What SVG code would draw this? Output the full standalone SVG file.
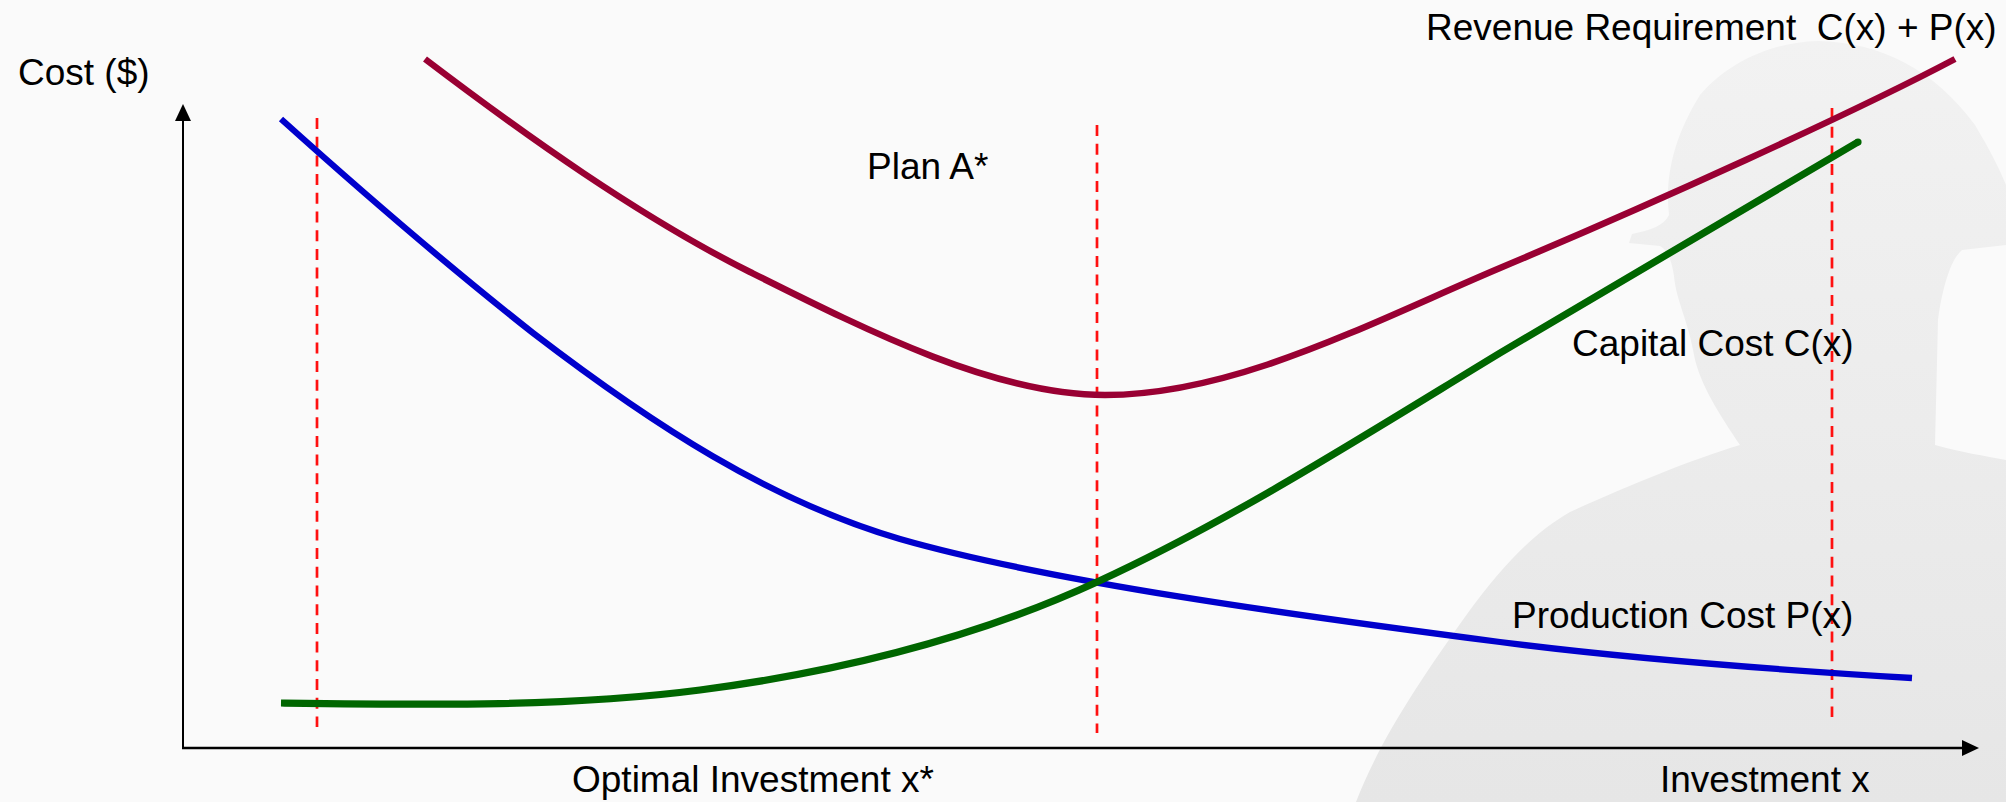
<svg xmlns="http://www.w3.org/2000/svg" width="2006" height="802" viewBox="0 0 2006 802">
  <defs>
    <linearGradient id="sil" x1="0" y1="0" x2="0" y2="1">
      <stop offset="0" stop-color="#f2f2f2"/>
      <stop offset="0.5" stop-color="#ececec"/>
      <stop offset="1" stop-color="#e6e6e6"/>
    </linearGradient>
    <style>
      .lbl { font-family: "Liberation Sans", Arial, sans-serif; font-size: 37px; fill: #000; white-space: pre; }
      .curve { fill: none; stroke-linejoin: round; stroke-linecap: butt; }
      .guide { stroke: #ff1010; stroke-width: 2.7; stroke-dasharray: 11 7.7; fill: none; }
      .axis { stroke: #000; fill: none; }
    </style>
  </defs>

  <rect width="2006" height="802" fill="#fafafa"/>

  <g id="background-silhouette">
    <path fill="url(#sil)" d="M1356,802 C1380,740 1420,680 1470,610 C1500,570 1530,535 1570,512 C1630,485 1690,460 1740,445 C1720,415 1700,385 1694,355 C1688,320 1676,300 1674,276 C1672,262 1668,250 1660,246 L1629,243 L1632,234 C1650,230 1664,226 1669,215 C1665,180 1672,140 1700,95 C1730,60 1775,42 1818,41 C1880,42 1935,70 1975,125 C1990,150 2000,170 2006,185 L2006,245 L1962,250 C1950,260 1942,290 1938,320 L1935,445 C1960,452 1985,456 2006,460 L2006,802 Z"/>
  </g>

  <g id="connectors">
    <g id="guides">
      <line class="guide" x1="317" y1="118" x2="317" y2="727"/>
      <line class="guide" x1="1097" y1="125" x2="1097" y2="733"/>
      <line class="guide" x1="1832" y1="108" x2="1832" y2="717"/>
    </g>
    <g id="axes">
      <line class="axis" stroke-width="2" x1="183" y1="749" x2="183" y2="118"/>
      <polygon points="183,104 175,121 191,121" fill="#000"/>
      <line class="axis" stroke-width="2.6" x1="182" y1="748" x2="1964" y2="748"/>
      <polygon points="1979,748 1962,740 1962,756" fill="#000"/>
    </g>
  </g>

  <g id="production-cost">
    <path class="curve" stroke="#0000cc" stroke-width="6.3" d="M281,119 C361,191 453,270 533,333 C653,425 770,501 900,539 C1050,582 1300,616 1500,642 C1640,660 1812,672 1912,678"/>
    <text class="lbl" x="1512" y="628">Production Cost P(x)</text>
  </g>

  <g id="capital-cost">
    <path class="curve" stroke="#006600" stroke-width="7.2" d="M281,703 C431,705 570,707 700,690 C830,673 967,642 1097,582 C1232,520 1365,435 1500,353 C1620,281 1740,211 1858,142"/>
    <circle cx="1858" cy="142" r="3.6" fill="#006600"/>
    <text class="lbl" x="1572" y="356">Capital Cost C(x)</text>
  </g>

  <g id="revenue-requirement">
    <path class="curve" stroke="#990033" stroke-width="6.5" d="M425,59 C525,135 640,217 750,272 C870,332 995,395 1105,395 C1235,395 1370,323 1500,268 C1650,205 1855,112 1955,59"/>
    <text class="lbl" x="1426" y="40">Revenue Requirement  C(x) + P(x)</text>
  </g>

  <g id="plan-a">
    <text class="lbl" x="867" y="179">Plan A*</text>
  </g>

  <g id="axis-labels">
    <text class="lbl" x="18" y="85">Cost ($)</text>
    <text class="lbl" x="572" y="792">Optimal Investment x*</text>
    <text class="lbl" x="1660" y="792">Investment x</text>
  </g>
</svg>
